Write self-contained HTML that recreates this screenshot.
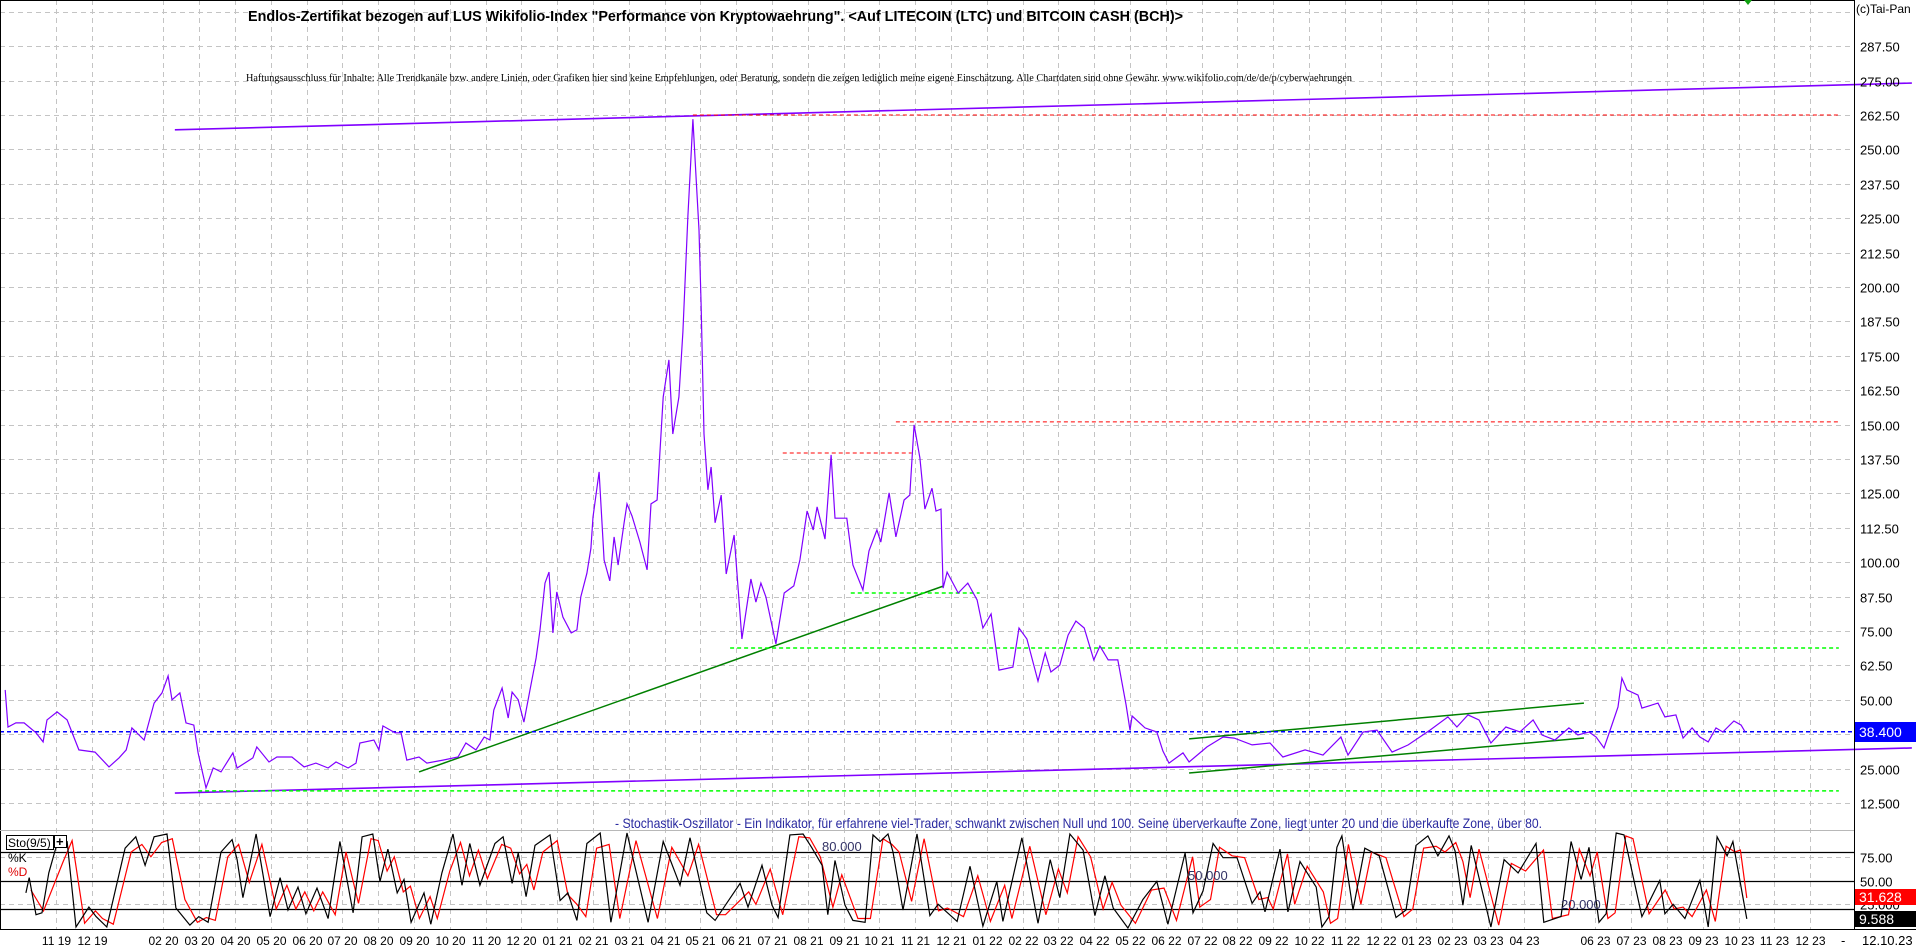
<!DOCTYPE html>
<html><head><meta charset="utf-8"><title>LUS Wikifolio Chart</title>
<style>
html,body{margin:0;padding:0;background:#fff;}
svg{display:block;font-family:"Liberation Sans",Arial,sans-serif;}
</style></head>
<body>
<svg id="chart" width="1916" height="948" viewBox="0 0 1916 948" xmlns="http://www.w3.org/2000/svg">
  <rect x="0" y="0" width="1916" height="948" fill="#ffffff"/>
  <g id="grid"></g>
  <g id="annot"></g>
  <g id="series"></g>
  <g id="axes"></g>
  <line x1="0.5" y1="0" x2="0.5" y2="930" stroke="#000" stroke-width="1"/>
  <line x1="0" y1="0.5" x2="1854" y2="0.5" stroke="#000" stroke-width="1"/>
  <line x1="1854.5" y1="0" x2="1854.5" y2="930" stroke="#000" stroke-width="1"/>
  <line x1="0" y1="830.5" x2="1854" y2="830.5" stroke="#b8b8b8" stroke-width="1"/>
  <line x1="0" y1="929.5" x2="1916" y2="929.5" stroke="#000" stroke-width="1"/>
  <text x="248" y="21" font-size="14.5" font-weight="bold" fill="#000" textLength="935" lengthAdjust="spacingAndGlyphs">Endlos-Zertifikat bezogen auf LUS Wikifolio-Index "Performance von Kryptowaehrung". &lt;Auf LITECOIN (LTC) und BITCOIN CASH (BCH)&gt;</text>
  <text x="246" y="81" font-size="10.5" fill="#000" font-family="'Liberation Serif',serif" textLength="1106" lengthAdjust="spacingAndGlyphs">Haftungsausschluss für Inhalte: Alle Trendkanäle bzw. andere Linien, oder Grafiken hier sind keine Empfehlungen, oder Beratung, sondern die zeigen lediglich meine eigene Einschätzung. Alle Chartdaten sind ohne Gewähr. www.wikifolio.com/de/de/p/cyberwaehrungen</text>
  <text x="1856" y="13" font-size="12" fill="#000">(c)Tai-Pan</text>
  <polygon points="1744,0 1752,0 1748,5" fill="#10a010"/>
  <text x="615" y="828" font-size="14" fill="#2a2aa0" textLength="927" lengthAdjust="spacingAndGlyphs">- Stochastik-Oszillator - Ein Indikator, für erfahrene viel-Trader, schwankt zwischen Null und 100. Seine überverkaufte Zone, liegt unter 20 und die überkaufte Zone, über 80.</text>
  <g>
    <rect x="6.5" y="835.5" width="47" height="14" fill="#fff" stroke="#000"/>
    <text x="8" y="847" font-size="12" fill="#000">Sto(9/5)</text>
    <rect x="54.5" y="835.5" width="12" height="12" fill="#fff" stroke="#000"/>
    <text x="56" y="846" font-size="13" font-weight="bold" fill="#000">+</text>
    <text x="8" y="862" font-size="12" fill="#000">%K</text>
    <text x="8" y="876" font-size="12" fill="#e00000">%D</text>
  </g>
  <text x="822" y="851" font-size="13" fill="#333366">80.000</text>
  <text x="1188" y="880" font-size="13" fill="#333366">50.000</text>
  <text x="1561" y="909" font-size="13" fill="#333366">20.000</text>
  <g>
    <rect x="1855" y="722" width="61" height="20" fill="#0000ff"/>
    <text x="1859" y="737" font-size="14" fill="#fff">38.400</text>
  </g>
  <g>
    <rect x="1855" y="889" width="61" height="16" fill="#ff0000"/>
    <text x="1859" y="902" font-size="14" fill="#fff">31.628</text>
  </g>
  <g>
    <rect x="1855" y="911" width="61" height="16" fill="#000"/>
    <text x="1859" y="924" font-size="14" fill="#fff">9.588</text>
  </g>
  <text x="1841" y="945" font-size="13" fill="#000">-</text>
  <text x="1862" y="945" font-size="13" fill="#000">12.10.23</text>
</svg>
<script>
// ---- data (time t = months since Nov 2019) ----
const priceT = [-1.42,-1.34,-1.12,-0.89,-0.56,-0.36,-0.25,0.03,0.31,0.64,1.09,1.48,1.76,1.96,2.12,2.46,2.74,2.96,3.13,3.24,3.46,3.63,3.85,3.97,4.19,4.39,4.61,4.94,5.06,5.50,5.61,5.95,6.17,6.59,6.93,7.26,7.60,7.82,8.16,8.38,8.49,8.88,9.02,9.13,9.47,9.64,9.80,10.14,10.36,10.81,11.23,11.45,11.73,11.96,12.12,12.23,12.46,12.63,12.74,12.91,13.07,13.24,13.41,13.52,13.66,13.77,13.88,13.99,14.16,14.39,14.55,14.66,14.83,14.94,15.00,15.17,15.31,15.47,15.59,15.70,15.87,15.95,16.09,16.31,16.51,16.62,16.79,16.96,17.12,17.23,17.40,17.51,17.65,17.74,17.79,17.88,17.96,18.02,18.10,18.21,18.30,18.41,18.58,18.72,18.94,19.16,19.41,19.55,19.69,19.83,20.11,20.34,20.61,20.78,20.98,21.15,21.26,21.48,21.65,21.76,22.09,22.26,22.54,22.71,22.93,23.04,23.27,23.46,23.69,23.85,23.97,24.13,24.27,24.47,24.58,24.72,24.78,24.89,25.20,25.47,25.73,25.89,26.12,26.34,26.73,26.90,27.12,27.43,27.63,27.79,28.04,28.27,28.49,28.72,28.99,29.16,29.39,29.66,29.89,30.00,30.06,30.42,30.75,30.92,31.09,31.48,31.65,32.15,32.60,32.91,33.41,33.91,34.27,34.89,35.39,35.89,36.09,36.51,36.90,37.32,37.77,38.38,38.88,39.13,39.44,39.75,40.08,40.50,40.89,41.26,41.51,41.87,42.26,42.51,42.82,43.02,43.24,43.44,43.63,43.74,43.88,44.19,44.30,44.75,44.94,45.25,45.45,45.70,45.92,46.15,46.37,46.56,46.87,47.07,47.18];
const priceV = [53.6,40.1,41.6,41.6,38,34.7,42.7,45.6,42.7,31.8,31,25.6,28.9,31.8,39.8,35.4,48.8,52.5,58.7,50,52.5,41.6,40.8,30.7,18,25.2,23.8,30.7,25.2,28.9,32.9,27.4,29.2,29.2,25.6,27,25.2,27.4,25.2,27,34.3,35.4,31.8,40.5,38,38,28.1,29.2,27,28.1,29.2,34.3,31.8,36.5,35.4,46.3,54.3,43.4,52.8,50,41.9,53.6,65.2,75.4,92.4,96.4,74.3,89.2,80.1,74.3,75.4,87.4,96,105,116.4,132.8,100.8,93.2,109.2,99,114.3,121.2,116.8,107.3,97.2,121.2,122.6,160,173.5,146.6,160,183.7,225.8,248,261,239.6,220.7,193.8,146.6,126.3,134.6,114.3,124.4,95.7,109.9,72.1,93.9,85.5,92.4,87.4,70.3,88.8,91.4,100.8,118.6,111.7,120.1,108.4,139,116,116,99,89.9,104.1,111.7,107.3,125.2,109.2,122.6,124.4,149.9,137.9,119.3,126.9,118.6,119.3,90.6,96.4,88.8,92.4,86.3,76.1,81.2,60.8,61.9,76.1,72.1,56.8,67,60.1,62.6,73.5,78.6,76.1,64.5,69.5,64.5,64.5,48.1,39,44.1,39.8,38.3,31.4,27,30.7,27.4,32.9,36.5,36.1,33.6,34.3,29.2,31.8,29.9,36.5,29.9,38.3,39,31,33.6,39,43.8,40.1,44.5,42.7,34.3,40.1,38.3,42.7,37.2,35.4,39.8,37.2,38.3,36.5,32.5,40.1,47.4,57.9,53.6,51.7,47,48.8,43.8,44.5,36.1,39.8,36.5,34.7,39.8,38.3,42.3,40.8,38.4];
const kT = [-0.84,-0.75,-0.56,-0.39,-0.2,0,0.2,0.31,0.56,0.92,1.12,1.42,1.93,2.23,2.49,2.74,3.10,3.35,3.74,3.99,4.25,4.61,4.92,5.06,5.22,5.59,5.98,6.26,6.48,6.76,6.98,7.29,7.60,7.93,8.30,8.55,8.85,9.05,9.27,9.53,9.72,9.92,10.28,10.47,10.78,11.09,11.34,11.56,11.84,12.26,12.49,12.74,12.91,13.13,13.38,13.80,14.08,14.30,14.55,14.83,15.20,15.50,15.95,16.54,16.96,17.43,17.71,18.18,18.41,19.11,19.33,19.72,20.00,20.17,20.50,20.87,21.12,21.40,21.56,21.76,22.04,22.26,22.60,22.82,23.02,23.24,23.38,23.66,24.05,24.41,24.64,25.17,25.53,25.89,26.28,26.45,26.98,27.43,27.77,28.04,28.32,28.69,29.02,29.30,29.53,29.94,30.36,30.75,31.06,31.54,31.76,32.04,32.32,32.60,32.99,33.41,33.63,33.77,34.19,34.41,34.75,35.20,35.36,35.56,35.78,35.92,36.23,36.56,36.96,37.43,37.71,37.99,38.32,38.60,38.91,39.08,39.30,39.53,40.08,40.45,40.84,41.34,41.56,42.04,42.32,42.60,42.82,43.10,43.30,43.58,43.80,44.30,44.80,44.94,45.17,45.50,45.92,46.15,46.40,46.68,46.84,47.23];
const kV = [37,53,14,16,58,85,93,91,1,22,12,1,84,96,66,96,99,21,3,12,6,80,93,72,32,99,12,53,19,43,15,42,10,91,16,96,99,49,83,37,51,6,37,4,58,99,45,89,45,89,96,47,79,33,87,98,29,37,8,89,100,6,100,6,91,45,95,16,8,47,22,66,24,11,98,99,84,66,14,71,24,8,6,98,91,99,80,19,99,13,25,7,65,2,49,7,95,5,72,32,99,82,13,55,21,0,30,49,4,79,16,39,89,74,74,26,38,17,83,17,70,43,1,12,85,97,19,84,76,11,19,87,97,76,97,81,24,87,1,72,58,89,6,12,91,51,85,6,15,100,98,12,50,15,25,10,50,1,96,76,91,9.6];
const dT = [-0.7,-0.35,0.2,0.45,0.8,1.1,1.3,1.6,2.1,2.4,2.65,2.95,3.25,3.6,3.95,4.2,4.45,4.8,5.1,5.4,5.75,6.15,6.45,6.7,6.95,7.2,7.45,7.8,8.1,8.45,8.8,9.0,9.25,9.45,9.7,9.9,10.15,10.45,10.65,11.0,11.3,11.55,11.8,12.05,12.45,12.7,12.95,13.15,13.35,13.6,14.0,14.3,14.55,14.8,15.1,15.45,15.75,16.2,16.8,17.2,17.65,17.95,18.45,18.7,19.35,19.55,19.95,20.3,20.75,21.05,21.35,21.7,21.95,22.4,22.75,23.1,23.35,23.55,23.9,24.25,24.65,24.9,25.35,25.75,26.1,26.5,26.7,27.2,27.65,28.0,28.25,28.55,28.9,29.25,29.5,29.75,30.15,30.6,30.95,31.3,31.75,31.95,32.25,32.5,32.85,33.2,33.6,33.85,34.0,34.4,34.6,34.95,35.4,35.6,35.8,36.1,36.45,36.75,37.15,37.65,37.9,38.2,38.55,38.8,39.1,39.3,39.5,39.75,40.3,40.65,41.05,41.55,41.8,42.25,42.55,42.85,43.05,43.35,43.55,43.85,44.05,44.5,44.95,45.2,45.45,45.7,46.1,46.35,46.65,46.9,47.05,47.23];
const dV = [40,18,70,92,5,18,10,4,80,88,75,90,94,30,6,11,8,75,88,48,88,20,45,20,38,18,38,14,80,26,94,92,60,75,38,44,10,33,10,60,90,55,82,52,88,84,57,67,40,80,92,35,25,12,84,88,10,92,10,85,55,88,14,14,38,25,62,14,96,95,75,22,56,10,10,94,88,80,28,94,18,21,12,55,7,45,10,86,14,62,37,96,75,20,48,24,5,40,42,8,75,22,30,85,76,74,30,32,20,78,25,65,38,5,10,88,25,80,74,12,20,84,86,80,90,70,32,83,3,68,60,82,10,14,83,55,80,10,16,97,94,15,40,20,22,12,40,7,86,80,82,31.6];
const monthLabels = ["11 19","12 19","","02 20","03 20","04 20","05 20","06 20","07 20","08 20","09 20","10 20","11 20","12 20","01 21","02 21","03 21","04 21","05 21","06 21","07 21","08 21","09 21","10 21","11 21","12 21","01 22","02 22","03 22","04 22","05 22","06 22","07 22","08 22","09 22","10 22","11 22","12 22","01 23","02 23","03 23","04 23","","06 23","07 23","08 23","09 23","10 23","11 23","12 23"];
const priceTicks = [12.5,25,37.5,50,62.5,75,87.5,100,112.5,125,137.5,150,162.5,175,187.5,200,212.5,225,237.5,250,262.5,275,287.5];
const priceTickLabels = ["12.500","25.000","","50.00","62.50","75.00","87.50","100.00","112.50","125.00","137.50","150.00","162.50","175.00","187.50","200.00","212.50","225.00","237.50","250.00","262.50","275.00","287.50"];
const stochTicks = [25,50,75];
const stochTickLabels = ["25.000","50.00","75.00"];
const stochLevels = [20,50,80];
const lastPrice = [38.4];
// annotation lines: [t1, v1, t2, v2]
const trendPurple = [[3.32,257.1,51.84,274.1],[3.32,16.1,51.84,32.5]];
const trendGreen = [[10.14,23.8,24.80,91.4],[31.65,35.8,42.68,48.8],[31.65,23.4,42.68,36.1]];
const levelGreen = [[18.83,68.8,49.8],[3.97,16.9,49.8],[22.2,88.8,25.8]];
const levelRed = [[17.79,262.5,49.8],[23.46,151.0,49.8],[20.3,139.7,23.9]];

// ---- scales ----
const NS='http://www.w3.org/2000/svg';
function xS(t){return 56+35.8*t;}
function yP(v){return 803-(v-12.5)/12.5*34.4;}
function yS(s){return 928-s*0.95;}
function mk(tag,attrs,parent){const e=document.createElementNS(NS,tag);for(const k in attrs)e.setAttribute(k,attrs[k]);parent.appendChild(e);return e;}
const grid=document.getElementById('grid'),annot=document.getElementById('annot'),series=document.getElementById('series'),axes=document.getElementById('axes');

// grid
priceTicks.forEach((v,i)=>{
  const y=Math.round(yP(v))+0.5;
  const l=mk('line',{x1:0,y1:y,x2:1854,y2:y,stroke:'#c4c4c4','stroke-dasharray':'5,4'},grid);
  
  
  if(priceTickLabels[i]){
    const t=mk('text',{x:1860,y:y+5,'font-size':13,fill:'#000'},axes);
    t.textContent=priceTickLabels[i];
    
    
  }
});
const topG=mk('line',{x1:0,y1:12.5,x2:1854,y2:12.5,stroke:'#c4c4c4','stroke-dasharray':'5,4'},grid);


stochTicks.forEach((s,i)=>{
  const y=Math.round(yS(s))+0.5;
  const l=mk('line',{x1:0,y1:y,x2:1854,y2:y,stroke:'#c4c4c4','stroke-dasharray':'5,4'},grid);
  
  
  const t=mk('text',{x:1860,y:y+5,'font-size':13,fill:'#000'},axes);
  t.textContent=stochTickLabels[i];
  
  
});
monthLabels.forEach((lab,m)=>{
  if(!lab)return;
  const x=Math.round(xS(m))+0.5;
  const l=mk('line',{x1:x,y1:0,x2:x,y2:929,stroke:'#c4c4c4','stroke-dasharray':'5,4'},grid);
  
  
  const t=mk('text',{x:x,y:945,'font-size':12,fill:'#000','text-anchor':'middle'},axes);
  t.textContent=lab;
  
  
});

// annotations
trendPurple.forEach(a=>{
  const l=mk('line',{x1:xS(a[0]),y1:yP(a[1]),x2:xS(a[2]),y2:yP(a[3]),stroke:'#8000ff','stroke-width':1.6},annot);
  
  
});
trendGreen.forEach(a=>{
  const l=mk('line',{x1:xS(a[0]),y1:yP(a[1]),x2:xS(a[2]),y2:yP(a[3]),stroke:'#008000','stroke-width':1.5},annot);
  
  
});
levelGreen.forEach(a=>{
  const y=yP(a[1]);
  const l=mk('line',{x1:xS(a[0]),y1:y,x2:xS(a[2]),y2:y,stroke:'#00ff00','stroke-width':1.5,'stroke-dasharray':'4,3'},annot);
  
  
});
levelRed.forEach(a=>{
  const y=yP(a[1]);
  const l=mk('line',{x1:xS(a[0]),y1:y,x2:xS(a[2]),y2:y,stroke:'#ff0000','stroke-width':1,'stroke-dasharray':'4,3'},annot);
  
  
});
const lp=mk('line',{x1:0,y1:yP(lastPrice[0]),x2:1854,y2:yP(lastPrice[0]),stroke:'#0000ff','stroke-width':1.5,'stroke-dasharray':'4,3'},annot);


stochLevels.forEach(s=>{
  const y=Math.round(yS(s))+0.5;
  const l=mk('line',{x1:0,y1:y,x2:1854,y2:y,stroke:'#000','stroke-width':1.3},annot);
  
  
});

// series
function pts(T,V,fy){return T.map((t,i)=>xS(t).toFixed(1)+','+fy(V[i]).toFixed(1)).join(' ');}
const price=mk('polyline',{points:pts(priceT,priceV,yP),fill:'none',stroke:'#8000ff','stroke-width':1.2,'stroke-linejoin':'miter'},series);


const dl=mk('polyline',{points:pts(dT,dV,yS),fill:'none',stroke:'#ff0000','stroke-width':1.2},series);


const kl=mk('polyline',{points:pts(kT,kV,yS),fill:'none',stroke:'#000000','stroke-width':1.2},series);


</script>
</body></html>
